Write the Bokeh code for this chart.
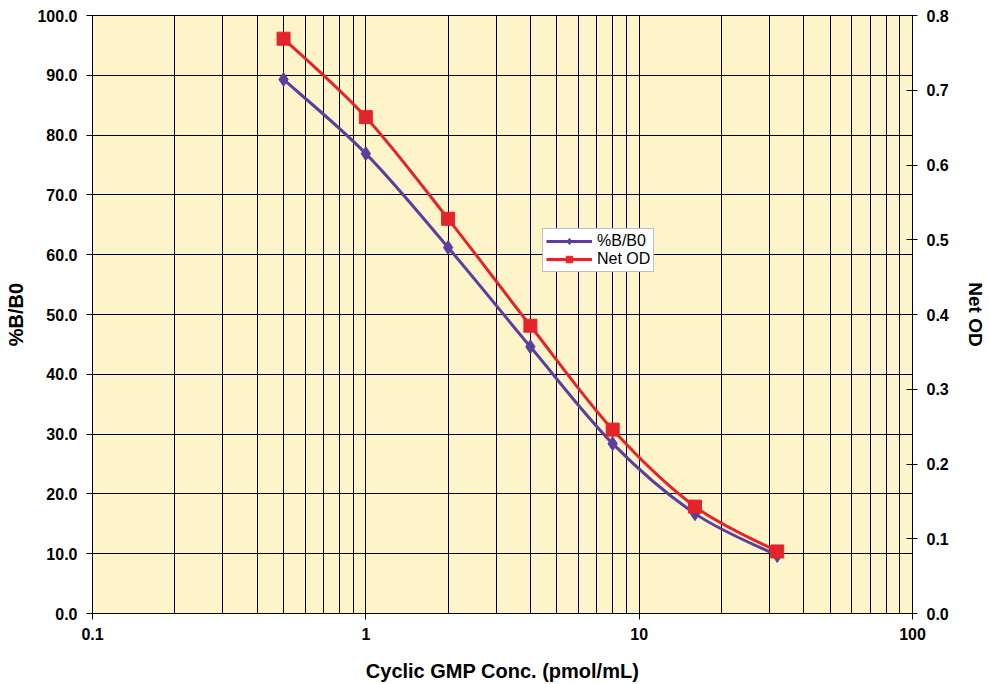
import numpy as np
from bokeh.plotting import figure
from bokeh.models import (Range1d, LinearAxis, FixedTicker, PrintfTickFormatter,
                          Legend, LegendItem, ColumnDataSource)
from bokeh.embed import file_html
from bokeh.resources import INLINE

# ---- data ----
conc = [0.5, 1, 2, 4, 8, 16, 32]
pct_b_b0 = [89.3, 76.9, 61.2, 44.6, 28.4, 16.7, 9.7]
net_od = [0.769, 0.664, 0.528, 0.385, 0.246, 0.143, 0.083]

x_major_ticks = [0.1, 1, 10, 100]
x_grid_ticks = [0.2, 0.3, 0.4, 0.5, 0.6, 0.7, 0.8, 0.9, 1,
                2, 3, 4, 5, 6, 7, 8, 9, 10,
                20, 30, 40, 50, 60, 70, 80, 90]
left_ticks = [0, 10, 20, 30, 40, 50, 60, 70, 80, 90, 100]
right_ticks = [0.0, 0.1, 0.2, 0.3, 0.4, 0.5, 0.6, 0.7, 0.8]

PURPLE = "#5a3f9f"
RED = "#e3242b"
BG = "#fef4c9"
FONT = "Liberation Sans"


def smooth_segments(xs, ys):
    """Catmull-Rom style bezier segments in (log10 x, y) space."""
    lx = np.log10(np.asarray(xs, float))
    yy = np.asarray(ys, float)
    n = len(lx)
    d = dict(x0=[], y0=[], x1=[], y1=[], cx0=[], cy0=[], cx1=[], cy1=[])
    for i in range(n - 1):
        p0 = max(i - 1, 0)
        p3 = min(i + 2, n - 1)
        c1x = lx[i] + (lx[i + 1] - lx[p0]) / 6.0
        c1y = yy[i] + (yy[i + 1] - yy[p0]) / 6.0
        c2x = lx[i + 1] - (lx[p3] - lx[i]) / 6.0
        c2y = yy[i + 1] - (yy[p3] - yy[i]) / 6.0
        d["x0"].append(10 ** lx[i]); d["y0"].append(yy[i])
        d["x1"].append(10 ** lx[i + 1]); d["y1"].append(yy[i + 1])
        d["cx0"].append(10 ** c1x); d["cy0"].append(c1y)
        d["cx1"].append(10 ** c2x); d["cy1"].append(c2y)
    return ColumnDataSource(d)


p = figure(frame_width=820, frame_height=598, x_axis_type="log",
           x_range=Range1d(0.1, 100), y_range=Range1d(0, 100),
           output_backend="svg", toolbar_location=None,
           min_border_left=92, min_border_right=55,
           min_border_top=15, min_border_bottom=50,
           background_fill_color=BG, border_fill_color="white")
p.extra_y_ranges = {"od": Range1d(0, 0.8)}

p.outline_line_color = "black"
p.outline_line_width = 1

# grids
p.xgrid.ticker = FixedTicker(ticks=x_grid_ticks)
p.xgrid.grid_line_color = "black"
p.xgrid.grid_line_width = 1
p.ygrid.ticker = FixedTicker(ticks=left_ticks)
p.ygrid.grid_line_color = "black"
p.ygrid.grid_line_width = 1

# axes
xa = p.xaxis[0]
xa.ticker = FixedTicker(ticks=x_major_ticks)
xa.major_label_overrides = {0.1: "0.1", 1: "1", 10: "10", 100: "100"}
xa.axis_label = "Cyclic GMP Conc. (pmol/mL)"

ya = p.yaxis[0]
ya.ticker = FixedTicker(ticks=left_ticks)
ya.formatter = PrintfTickFormatter(format="%.1f")
ya.axis_label = "%B/B0"

ra = LinearAxis(y_range_name="od", ticker=FixedTicker(ticks=right_ticks),
                formatter=PrintfTickFormatter(format="%.1f"), axis_label="Net OD")
p.add_layout(ra, "right")

for ax in (xa, ya, ra):
    ax.axis_line_color = "black"
    ax.major_tick_line_color = "black"
    ax.minor_tick_line_color = None
    ax.major_tick_out = 6
    ax.major_tick_in = 0
    ax.major_label_text_font = FONT
    ax.major_label_text_font_style = "bold"
    ax.major_label_text_font_size = "16px"
    ax.major_label_text_color = "black"
    ax.axis_label_text_font = FONT
    ax.axis_label_text_font_style = "bold"
    ax.axis_label_text_font_size = "20px"
    ax.axis_label_text_color = "black"
ra.major_tick_in = 6
ra.major_tick_out = 5
ra.axis_label_text_font_size = "19px"
xa.major_label_standoff = 8
xa.axis_label_standoff = 17
ya.major_label_standoff = 9
ya.axis_label_standoff = 7
ra.major_label_standoff = 9
ra.axis_label_standoff = 13

# series 1: %B/B0
src1 = smooth_segments(conc, pct_b_b0)
p.bezier(x0="x0", y0="y0", x1="x1", y1="y1", cx0="cx0", cy0="cy0",
         cx1="cx1", cy1="cy1", source=src1, line_color=PURPLE, line_width=3)
s1 = p.scatter(conc, pct_b_b0, marker="diamond", size=14,
               fill_color=PURPLE, line_color=PURPLE)
l1 = p.line([float("nan")], [float("nan")], line_color=PURPLE, line_width=3)

# series 2: Net OD
src2 = smooth_segments(conc, net_od)
p.bezier(x0="x0", y0="y0", x1="x1", y1="y1", cx0="cx0", cy0="cy0",
         cx1="cx1", cy1="cy1", source=src2, line_color=RED, line_width=3,
         y_range_name="od")
s2 = p.scatter(conc, net_od, marker="square", size=13,
               fill_color=RED, line_color=RED, y_range_name="od")
l2 = p.line([float("nan")], [float("nan")], line_color=RED, line_width=3,
            y_range_name="od")

legend = Legend(items=[LegendItem(label="%B/B0", renderers=[l1, s1]),
                       LegendItem(label="Net OD", renderers=[l2, s2])],
                location=(450, 341), orientation="vertical")
legend.background_fill_color = "white"
legend.background_fill_alpha = 1
legend.border_line_color = "#808080"
legend.border_line_width = 1
legend.label_text_font = FONT
legend.label_text_font_size = "16px"
legend.label_text_color = "black"
legend.glyph_width = 46
legend.glyph_height = 16
legend.label_height = 16
legend.label_standoff = 5
legend.spacing = 0
legend.padding = 3
legend.margin = 0
p.add_layout(legend, "center")

open("out.html", "w").write(file_html(p, INLINE))
